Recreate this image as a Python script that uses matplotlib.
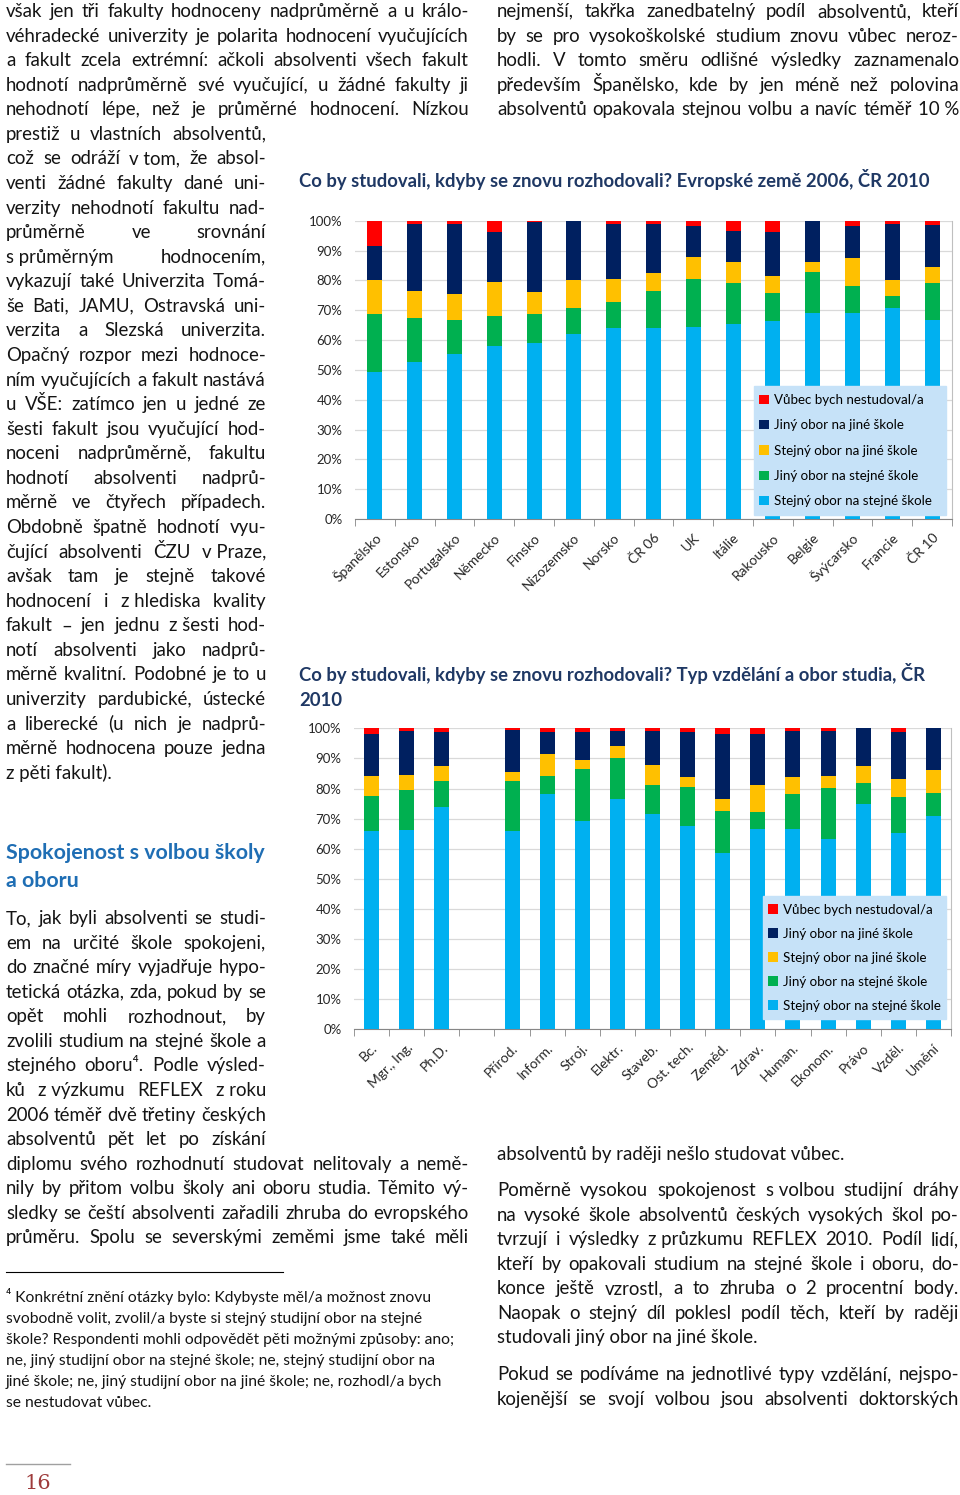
import matplotlib
matplotlib.use('Agg')
import matplotlib.pyplot as plt
from matplotlib.patches import Patch, Rectangle
from matplotlib.transforms import ScaledTranslation
import numpy as np

W, H = 960, 1495

## Chart 1: Evropské země 2006, ČR 2010 (% of graduates)
countries = ['Španělsko', 'Estonsko', 'Portugalsko', 'Německo', 'Finsko', 'Nizozemsko', 'Norsko',
             'ČR 06', 'UK', 'Itálie', 'Rakousko', 'Belgie', 'Švýcarsko', 'Francie', 'ČR 10']
eu_same_same   = [49.2, 52.5, 55.4, 58.1, 58.9, 62.1, 64.0, 64.1, 64.5, 65.3, 66.4, 69.1, 69.1, 70.8, 66.7]
eu_other_same  = [19.6, 14.8, 11.4, 9.8, 9.9, 8.8, 8.6, 12.5, 16.1, 13.7, 9.5, 13.8, 9.1, 3.9, 12.5]
eu_same_other  = [11.3, 9.3, 8.6, 11.5, 7.3, 9.1, 7.7, 5.7, 7.3, 7.0, 5.4, 3.1, 9.4, 5.4, 5.4]
eu_other_other = [11.3, 22.3, 23.5, 16.7, 23.3, 20.0, 18.6, 16.6, 10.4, 10.6, 14.8, 14.0, 10.5, 18.8, 13.9]
eu_none        = [8.6, 1.1, 1.1, 3.9, 0.6, 0.0, 1.1, 1.1, 1.7, 3.4, 3.9, 0.0, 1.9, 1.1, 1.5]

## Chart 2: Typ vzdělání a obor studia, ČR 2010
fields = ['Bc.', 'Mgr., Ing.', 'Ph.D.', '', 'Přírod.', 'Inform.', 'Stroj.', 'Elektr.', 'Staveb.',
          'Ost. tech.', 'Zeměd.', 'Zdrav.', 'Human.', 'Ekonom.', 'Právo', 'Vzděl.', 'Umění']
cz_same_same   = [65.9, 66.3, 74.0, 0, 66.0, 78.2, 69.2, 76.5, 71.5, 67.5, 58.5, 66.6, 66.6, 63.2, 75.0, 65.2, 71.0]
cz_other_same  = [11.7, 13.1, 8.5, 0, 16.5, 5.9, 17.3, 13.6, 9.5, 12.9, 14.0, 5.5, 11.6, 16.9, 6.8, 12.0, 7.5]
cz_same_other  = [6.5, 5.0, 5.0, 0, 3.1, 7.5, 3.1, 4.0, 6.8, 3.5, 3.9, 8.9, 5.7, 4.0, 5.8, 6.1, 7.5]
cz_other_other = [14.0, 14.7, 11.4, 0, 13.8, 7.3, 9.1, 5.1, 11.4, 14.8, 21.7, 17.2, 15.3, 15.1, 12.4, 15.4, 14.0]
cz_none        = [1.9, 0.9, 1.1, 0, 0.6, 1.1, 1.3, 0.8, 0.8, 1.3, 1.9, 1.8, 0.8, 0.8, 0.0, 1.3, 0.0]

series_labels = ['Stejný obor na stejné škole', 'Jiný obor na stejné škole', 'Stejný obor na jiné škole',
                 'Jiný obor na jiné škole', 'Vůbec bych nestudoval/a']
series_colors = ['#00B0F0', '#00B050', '#FFC000', '#002060', '#FF0000']

title1 = 'Co by studovali, kdyby se znovu rozhodovali? Evropské země 2006, ČR 2010'
title2 = ['Co by studovali, kdyby se znovu rozhodovali? Typ vzdělání a obor studia, ČR', '2010']

## Page text
NB = '\u00a0'
top_left = [
    'však jen tři fakulty hodnoceny nadprůměrně a u králo-',
    'véhradecké univerzity je polarita hodnocení vyučujících',
    'a fakult zcela extrémní: ačkoli absolventi všech fakult',
    'hodnotí nadprůměrně své vyučující, u žádné fakulty ji',
    'nehodnotí lépe, než je průměrné hodnocení. Nízkou',
]
narrow_left = [
    'prestiž u vlastních absolventů,',
    f'což se odráží v{NB}tom, že absol-',
    'venti žádné fakulty dané uni-',
    'verzity nehodnotí fakultu nad-',
    'průměrně ve srovnání',
    f's{NB}průměrným hodnocením,',
    'vykazují také Univerzita Tomá-',
    'še Bati, JAMU, Ostravská uni-',
    'verzita a Slezská univerzita.',
    'Opačný rozpor mezi hodnoce-',
    'ním vyučujících a fakult nastává',
    'u VŠE: zatímco jen u jedné ze',
    'šesti fakult jsou vyučující hod-',
    'noceni nadprůměrně, fakultu',
    'hodnotí absolventi nadprů-',
    'měrně ve čtyřech případech.',
    'Obdobně špatně hodnotí vyu-',
    f'čující absolventi ČZU v{NB}Praze,',
    'avšak tam je stejně takové',
    f'hodnocení i z{NB}hlediska kvality',
    f'fakult – jen jednu z{NB}šesti hod-',
    'notí absolventi jako nadprů-',
    'měrně kvalitní. Podobné je to u',
    'univerzity pardubické, ústecké',
    'a liberecké (u nich je nadprů-',
    'měrně hodnocena pouze jedna',
    f'z{NB}pěti fakult).',
]
heading = ['Spokojenost s volbou školy', 'a oboru']
para2_narrow = [
    'To, jak byli absolventi se studi-',
    'em na určité škole spokojeni,',
    'do značné míry vyjadřuje hypo-',
    'tetická otázka, zda, pokud by se',
    'opět mohli rozhodnout, by',
    'zvolili studium na stejné škole a',
    'stejného oboru\u2074. Podle výsled-',
    f'ků z{NB}výzkumu REFLEX z{NB}roku',
    '2006 téměř dvě třetiny českých',
    'absolventů pět let po získání',
]
para2_wide = [
    'diplomu svého rozhodnutí studovat nelitovaly a nemě-',
    'nily by přitom volbu školy ani oboru studia. Těmito vý-',
    'sledky se čeští absolventi zařadili zhruba do evropského',
    'průměru. Spolu se severskými zeměmi jsme také měli',
]
right_top = [
    'nejmenší, takřka zanedbatelný podíl absolventů, kteří',
    'by se pro vysokoškolské studium znovu vůbec neroz-',
    'hodli. V tomto směru odlišné výsledky zaznamenalo',
    'především Španělsko, kde by jen méně než polovina',
    f'absolventů opakovala stejnou volbu a navíc téměř 10{NB}%',
]
right_bottom_1 = ['absolventů by raději nešlo studovat vůbec.']
right_bottom_2 = [
    f'Poměrně vysokou spokojenost s{NB}volbou studijní dráhy',
    'na vysoké škole absolventů českých vysokých škol po-',
    f'tvrzují i výsledky z{NB}průzkumu REFLEX 2010. Podíl lidí,',
    'kteří by opakovali studium na stejné škole i oboru, do-',
    'konce ještě vzrostl, a to zhruba o 2 procentní body.',
    'Naopak o stejný díl poklesl podíl těch, kteří by raději',
    'studovali jiný obor na jiné škole.',
]
right_bottom_3 = [
    'Pokud se podíváme na jednotlivé typy vzdělání, nejspo-',
    'kojenější se svojí volbou jsou absolventi doktorských',
]
footnote = [
    '\u2074 Konkrétní znění otázky bylo: Kdybyste měl/a možnost znovu',
    'svobodně volit, zvolil/a byste si stejný studijní obor na stejné',
    'škole? Respondenti mohli odpovědět pěti možnými způsoby: ano;',
    'ne, jiný studijní obor na stejné škole; ne, stejný studijní obor na',
    'jiné škole; ne, jiný studijní obor na jiné škole; ne, rozhodl/a bych',
    'se nestudovat vůbec.',
]
page_number = '16'

## Setup
plt.rcParams['font.family'] = ['Lato', 'DejaVu Sans']
TXT = '#141414'
fig = plt.figure(figsize=(W / 100, H / 100), dpi=100)
renderer = fig.canvas.get_renderer()


def fx(x):
    return x / W


def fy(y):
    return 1 - y / H


def fit_size(text, target, **kw):
    # font size that makes text exactly target px wide
    t = fig.text(0, 0, text, fontsize=10, **kw)
    w = t.get_window_extent(renderer).width
    t.remove()
    return 10 * target / w


def put_line(s, x0, x1, y, size, justify=True, **kw):
    words = s.split(' ')
    if not justify or len(words) == 1:
        fig.text(fx(x0), fy(y), s, fontsize=size, va='baseline', ha='left', **kw)
        return
    arts = [fig.text(0, fy(y), w, fontsize=size, va='baseline', ha='left', **kw) for w in words]
    widths = [a.get_window_extent(renderer).width for a in arts]
    gap = max((x1 - x0 - sum(widths)) / (len(words) - 1), size * 0.15)
    x = x0
    for a, w in zip(arts, widths):
        a.set_x(fx(x))
        x += w + gap


def put_para(lines, x0, x1, y0, size, step=24.57, last_free=True, **kw):
    for k, s in enumerate(lines):
        just = not (last_free and k == len(lines) - 1)
        put_line(s, x0, x1, y0 + k * step, size, justify=just, color=TXT, **kw)


body = fit_size('absolventů by raději nešlo studovat vůbec.', 349)

put_para(top_left, 6, 469, 17, body, last_free=False)
put_para(narrow_left, 6, 266, 17 + 5 * 24.57, body)
put_para(para2_narrow, 6, 266, 924, body, last_free=False)
put_para(para2_wide, 6, 469, 924 + 10 * 24.57, body, last_free=False)
put_para(right_top, 497, 959, 17, body, last_free=False)
put_para(right_bottom_1, 497, 959, 1160, body)
put_para(right_bottom_2, 497, 959, 1196, body)
put_para(right_bottom_3, 497, 959, 1380, body, last_free=False)

hsize = fit_size(heading[0], 260, fontweight='bold')
for k, s in enumerate(heading):
    fig.text(fx(6), fy(859 + k * 28), s, fontsize=hsize, fontweight='bold',
             color='#1F6EB4', va='baseline')

tsize = fit_size(title1, 630, fontweight='bold')
fig.text(fx(299), fy(187), title1, fontsize=tsize, fontweight='bold', color='#1F3864', va='baseline')
for k, s in enumerate(title2):
    fig.text(fx(299), fy(681 + k * 25), s, fontsize=tsize, fontweight='bold', color='#1F3864', va='baseline')

fsize = fit_size(footnote[2], 449)
for k, s in enumerate(footnote):
    fig.text(fx(6), fy(1302 + k * 21), s, fontsize=fsize, color=TXT, va='baseline')
fig.add_artist(plt.Line2D([fx(6), fx(283)], [fy(1272), fy(1272)], color='black', lw=0.8))

fig.add_artist(plt.Line2D([fx(6), fx(70)], [fy(1464), fy(1464)], color='#a0a0a0', lw=1.0))
fig.text(fx(38), fy(1489), page_number, fontsize=15, family='DejaVu Serif',
         color='#9E3B3B', ha='center', va='baseline')


## Charts
def stacked_chart(rect, cats, series, legend_box, row_step):
    left, top, right, bottom = rect
    ax = fig.add_axes([fx(left), fy(bottom), (right - left) / W, (bottom - top) / H])
    n = len(cats)
    xs = np.arange(n)
    bw = 15 / ((right - left) / n)
    base = np.zeros(n)
    for vals, col, lab in zip(series, series_colors, series_labels):
        v = np.array(vals) / 100
        ax.bar(xs, v, bottom=base, width=bw, color=col, label=lab, zorder=3)
        base += v
    ax.set_xlim(-0.5, n - 0.5)
    ax.set_ylim(0, 1)
    ax.set_yticks(np.linspace(0, 1, 11))
    ax.set_yticklabels([f'{int(round(t * 100))}%' for t in np.linspace(0, 1, 11)])
    ax.yaxis.grid(True, color='#d9d9d9', lw=0.9, zorder=0)
    ax.tick_params(axis='y', length=0, pad=9, labelsize=9.5, labelcolor='#262626')
    for s in ['left', 'top']:
        ax.spines[s].set_visible(False)
    ax.spines['right'].set_color('#bfbfbf')
    ax.spines['bottom'].set_color('#868686')
    ax.set_xticks(xs)
    ax.set_xticks(np.arange(n + 1) - 0.5, minor=True)
    ax.tick_params(axis='x', which='minor', length=5, color='#868686', direction='out')
    ax.tick_params(axis='x', which='major', length=0, pad=12)
    ax.set_xticklabels(cats, rotation=45, ha='right', va='center', rotation_mode='anchor',
                       fontsize=10, color='#262626')
    off = ScaledTranslation(4 / 100, 0, fig.dpi_scale_trans)
    for lab in ax.get_xticklabels():
        lab.set_transform(lab.get_transform() + off)

    # legend box (light blue, drawn over bars)
    bx0, by0, bx1, by1 = legend_box
    ax0 = (bx0 - left) / (right - left)
    ay0 = (bottom - by1) / (bottom - top)
    aw = (bx1 - bx0) / (right - left)
    ah = (by1 - by0) / (bottom - top)
    ax.add_patch(Rectangle((ax0, ay0), aw, ah, transform=ax.transAxes, facecolor='#C6E2F8',
                           edgecolor='#C6E2F8', zorder=5, clip_on=False))
    handles = [Patch(facecolor=c, edgecolor='none') for c in series_colors][::-1]
    leg = ax.legend(handles, series_labels[::-1], loc='center left',
                    bbox_to_anchor=(ax0, ay0, aw, ah), frameon=False, fontsize=9.6,
                    handlelength=0.7, handleheight=0.7, handletextpad=0.4,
                    labelspacing=row_step, borderaxespad=0.2, borderpad=0.2)
    leg.set_zorder(6)
    return ax


stacked_chart((355, 220.7, 952, 519), countries,
              [eu_same_same, eu_other_same, eu_same_other, eu_other_other, eu_none],
              (754, 386, 946, 515), 1.0)
stacked_chart((354, 728.3, 951, 1029.3), fields,
              [cz_same_same, cz_other_same, cz_same_other, cz_other_other, cz_none],
              (763, 896, 946, 1019), 0.9)

fig.savefig('out.png', dpi=100)
